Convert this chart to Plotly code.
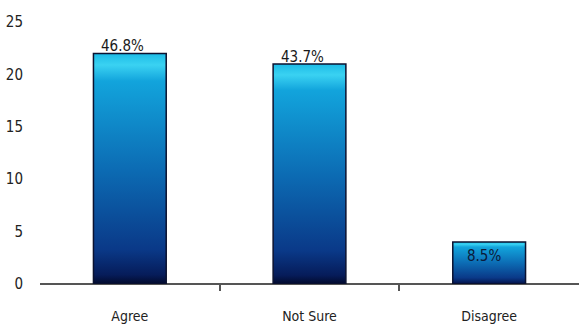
import plotly.graph_objects as go

# Survey responses
categories = ["Agree", "Not Sure", "Disagree"]
counts = [22, 21, 4]
pct_labels = ["46.8%", "43.7%", "8.5%"]

y_ticks = [0, 5, 10, 15, 20, 25]

BAR_WIDTH = 0.405
FONT = "Liberation Sans Narrow, DejaVu Sans Condensed, Arial Narrow, sans-serif"

# vertical blue gradient: dark navy at the base, cyan at the top
bar_scale = [
    [0.0, "#020a2c"],
    [0.04, "#061c5a"],
    [0.15, "#0a3988"],
    [0.5, "#0c6cb4"],
    [0.88, "#12a4dc"],
    [0.95, "#3ad2f2"],
    [1.0, "#1cbbe6"],
]

fig = go.Figure()

for i, (cat, v) in enumerate(zip(categories, counts)):
    x0, x1 = i - BAR_WIDTH / 2, i + BAR_WIDTH / 2
    fig.add_trace(go.Scatter(
        x=[x0, x0, x1, x1, x0],
        y=[0, v, v, 0, 0],
        mode="lines",
        fill="toself",
        fillgradient=dict(type="vertical", colorscale=bar_scale, start=0, stop=v),
        line=dict(color="#0b1230", width=1.5),
        name=cat,
        hoverinfo="text",
        text=f"{cat}: {v}",
        showlegend=False,
    ))

# percentage labels
for i, (v, lab) in enumerate(zip(counts, pct_labels)):
    inside = v < 8
    fig.add_annotation(
        x=i - 0.03 if inside else i - 0.04, y=v,
        text=lab,
        showarrow=False,
        yanchor="top" if inside else "bottom",
        yshift=-3 if inside else -4,
        font=dict(family=FONT, size=15, color="#0a1a3a" if inside else "#1a1a1a"),
    )

fig.update_layout(
    width=586, height=327,
    margin=dict(l=40, r=7, t=22, b=43),
    paper_bgcolor="white",
    plot_bgcolor="white",
    showlegend=False,
    xaxis=dict(
        range=[-0.5, 2.5],
        automargin=False,
        tickmode="array",
        tickvals=list(range(len(categories))),
        ticktext=categories,
        ticks="",
        ticklabelstandoff=22,
        showgrid=False,
        zeroline=False,
        showline=False,
        tickfont=dict(family=FONT, size=14, color="#222222"),
        minor=dict(tickmode="array", tickvals=[0.5, 1.5], ticks="outside",
                   ticklen=6, tickwidth=2, tickcolor="#555555", showgrid=False),
        fixedrange=True,
    ),
    yaxis=dict(
        range=[0, 25],
        automargin=False,
        tickmode="array",
        tickvals=y_ticks,
        ticks="",
        ticklabelstandoff=16,
        showgrid=False,
        zeroline=True,
        zerolinecolor="#555555",
        zerolinewidth=1.5,
        showline=False,
        tickfont=dict(family=FONT, size=15, color="#222222"),
        fixedrange=True,
    ),
)

fig.write_html("out.html")
